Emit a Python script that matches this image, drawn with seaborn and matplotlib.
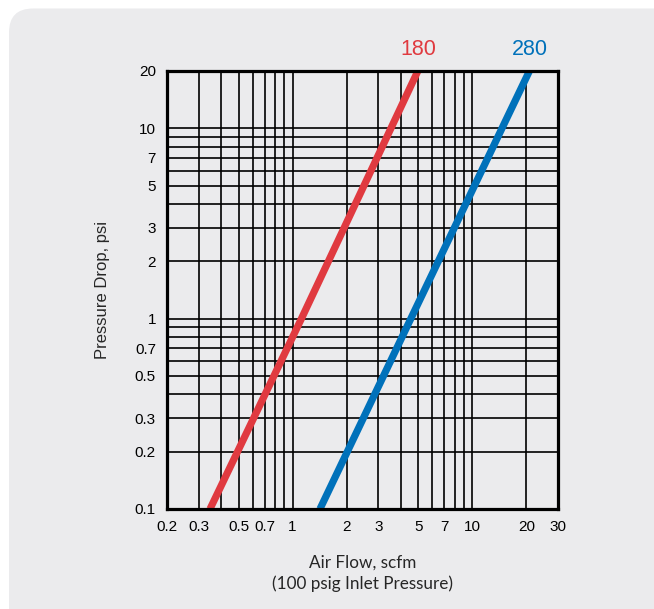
import numpy as np
import pandas as pd
import matplotlib
matplotlib.use("Agg")
import matplotlib.pyplot as plt
import seaborn as sns
from matplotlib.patches import FancyBboxPatch

# ---- data (air flow scfm vs pressure drop psi) ----
flow_180 = [0.347, 1.12, 4.98]
drop_180 = [0.1, 1.0, 20.0]

flow_280 = [1.42, 4.55, 20.8]
drop_280 = [0.1, 1.0, 20.0]

series_names = ["180", "280"]
series_colors = ["#E03A40", "#0071BA"]

x_grid = [0.3, 0.4, 0.5, 0.6, 0.7, 0.8, 0.9, 1, 2, 3, 4, 5, 6, 7, 8, 9, 10, 20]
x_labels = {0.2: "0.2", 0.3: "0.3", 0.5: "0.5", 0.7: "0.7", 1: "1", 2: "2",
            3: "3", 5: "5", 7: "7", 10: "10", 20: "20", 30: "30"}
y_grid = [0.2, 0.3, 0.4, 0.5, 0.6, 0.7, 0.8, 0.9, 1, 2, 3, 4, 5, 6, 7, 8, 9, 10]
y_labels = {0.1: "0.1", 0.2: "0.2", 0.3: "0.3", 0.5: "0.5", 0.7: "0.7", 1: "1",
            2: "2", 3: "3", 5: "5", 7: "7", 10: "10", 20: "20"}

sns.set_style("white")
plt.rcParams["font.family"] = ["Liberation Sans", "DejaVu Sans"]

PANEL = "#EBEBED"

fig = plt.figure(figsize=(6.54, 6.09), dpi=100)
fig.patch.set_facecolor("white")

# rounded grey panel behind everything (display pixel coords)
panel = FancyBboxPatch((9, -40), 720, 600.5 + 40, boxstyle="round,pad=0,rounding_size=24",
                       transform=None, facecolor=PANEL, edgecolor="none", zorder=-10)
fig.patches.append(panel)

ax = fig.add_axes([167 / 654, 1 - 509 / 609, (558 - 167) / 654, (509 - 71) / 609])
ax.set_facecolor(PANEL)

ax.set_xscale("log")
ax.set_yscale("log")
ax.set_xlim(0.2, 30)
ax.set_ylim(0.1, 20)

# grid lines
for gx in x_grid:
    ax.axvline(gx, color="black", lw=1.2, zorder=1)
for gy in y_grid:
    ax.axhline(gy, color="black", lw=1.2, zorder=1)

df = pd.concat([
    pd.DataFrame({"flow": flow_180, "drop": drop_180, "model": "180"}),
    pd.DataFrame({"flow": flow_280, "drop": drop_280, "model": "280"}),
])
for name, color in zip(series_names, series_colors):
    sub = df[df["model"] == name]
    sns.lineplot(data=sub, x="flow", y="drop", color=color, lw=5.2, ax=ax,
                 estimator=None, sort=True, zorder=3, solid_capstyle="butt")
    ax.annotate(name, xy=(sub["flow"].iloc[-1], 20), xytext=(0, 8),
                textcoords="offset points", ha="center", va="bottom",
                color=color, fontsize=15.5)

ax.xaxis.set_minor_locator(matplotlib.ticker.NullLocator())
ax.yaxis.set_minor_locator(matplotlib.ticker.NullLocator())
ax.set_xticks(list(x_labels.keys()))
ax.set_xticklabels(list(x_labels.values()))
ax.set_yticks(list(y_labels.keys()))
ax.set_yticklabels(list(y_labels.values()))
ax.tick_params(length=0, labelsize=11, colors="black", pad=8)

for sp in ax.spines.values():
    sp.set_visible(True)
    sp.set_color("black")
    sp.set_linewidth(2.3)
    sp.set_zorder(5)

ax.set_xlabel("Air Flow, scfm\n(100 psig Inlet Pressure)", fontsize=12.3,
              family=["Lato", "DejaVu Sans"], labelpad=15, linespacing=1.35)
ax.set_ylabel("Pressure Drop, psi", fontsize=12, labelpad=18)

fig.savefig("out.png", dpi=100, facecolor="white")
